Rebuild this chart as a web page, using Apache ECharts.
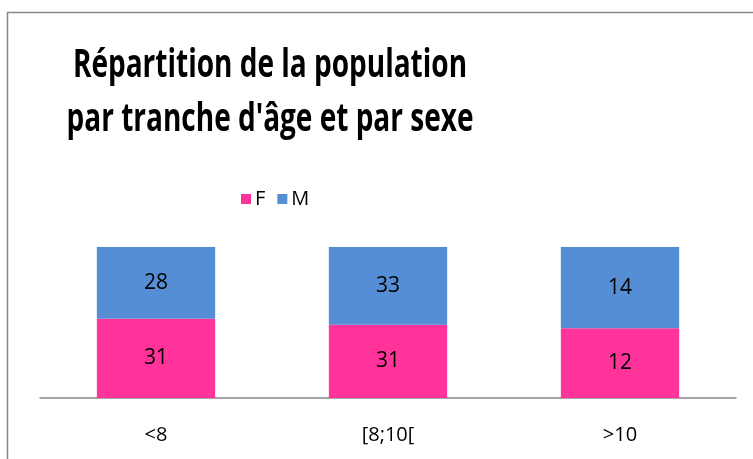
<!DOCTYPE html>
<html>
<head>
<meta charset="utf-8">
<script src="https://cdn.jsdelivr.net/npm/echarts@6/dist/echarts.min.js"></script>
<style>
  html, body { margin: 0; padding: 0; background: #fff; }
  #chart { width: 753px; height: 459px; }
</style>
</head>
<body>
<div id="chart"></div>
<script>
// tranches d'âge
var categories = ["<8", "[8;10[", ">10"];
var femmes = [31, 31, 12];
var hommes = [28, 33, 14];
var seriesNames = ["F", "M"];
var titleLines = ["Répartition de la population", "par tranche d'âge et par sexe"];
var colors = ["#FF3399", "#558ED5"];

// 100% empilé : on calcule la part de chaque sexe
function share(a, b) {
  return a.map(function (v, i) {
    return { value: (v / (v + b[i])) * 100, raw: v };
  });
}

var chart = echarts.init(document.getElementById("chart"));

var labelStyle = {
  show: true,
  position: "inside",
  fontFamily: "Open Sans",
  fontSize: 21,
  color: "#000",
  formatter: function (p) { return p.data.raw; }
};

// titre en texte condensé (police proche de Calibri gras)
function titleText(txt, y) {
  return {
    type: "text",
    x: 270,
    y: y,
    scaleX: 0.7,
    silent: true,
    style: {
      text: txt,
      fontFamily: "Open Sans",
      fontWeight: "bold",
      fontSize: 40,
      fill: "#000",
      align: "center",
      verticalAlign: "top"
    }
  };
}

var option = {
  animation: false,
  legend: {
    data: seriesNames,
    left: 236,
    top: 184,
    itemWidth: 10,
    itemHeight: 10,
    itemGap: 12,
    icon: "rect",
    textStyle: { fontFamily: "Open Sans", fontSize: 20, color: "#000", padding: [0, 0, 0, -1] }
  },
  grid: { left: 40, right: 17, top: 247, bottom: 61 },
  xAxis: {
    type: "category",
    data: categories,
    axisLine: { lineStyle: { color: "#888", width: 1.5 } },
    axisTick: { show: false },
    axisLabel: { fontFamily: "Open Sans", fontSize: 20, color: "#000", margin: 27 }
  },
  yAxis: {
    type: "value",
    min: 0,
    max: 100,
    show: false,
    splitLine: { show: false }
  },
  series: [
    {
      name: seriesNames[0],
      type: "bar",
      stack: "total",
      barCategoryGap: "49%",
      data: share(femmes, hommes),
      itemStyle: { color: colors[0] },
      label: labelStyle
    },
    {
      name: seriesNames[1],
      type: "bar",
      stack: "total",
      data: share(hommes, femmes),
      itemStyle: { color: colors[1] },
      label: labelStyle
    }
  ],
  graphic: [
    {
      type: "rect",
      shape: { x: 7.5, y: 12.5, width: 800, height: 500 },
      style: { fill: "none", stroke: "#888", lineWidth: 1.5 },
      silent: true
    },
    titleText(titleLines[0], 46),
    titleText(titleLines[1], 100)
  ]
};

chart.setOption(option);
</script>
</body>
</html>
